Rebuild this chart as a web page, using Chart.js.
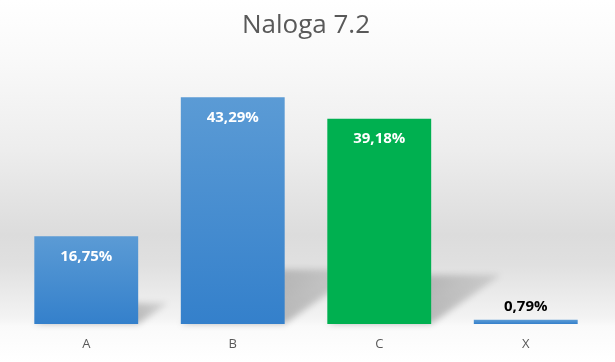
<!DOCTYPE html>
<html>
<head>
<meta charset="utf-8">
<script src="https://cdn.jsdelivr.net/npm/chart.js@4"></script>
<style>
  html, body { margin: 0; padding: 0; }
  body {
    width: 615px; height: 362px; overflow: hidden;
    background: linear-gradient(to bottom, #ffffff 0px, #f9f9f9 60px, #ededed 150px, #dcdcdc 235px, #e0e0e0 265px, #f3f3f3 318px, #fafafa 326px, #ffffff 362px);
  }
  .chart-box { position: relative; width: 615px; height: 362px; }
</style>
</head>
<body>
<div class="chart-box">
  <canvas id="naloga-chart"></canvas>
</div>
<script>
// Naloga 7.2 — share per answer
const categories = ['A', 'B', 'C', 'X'];
const shares = [16.75, 43.29, 39.18, 0.79];
const barColors = ['blue', 'blue', 'green', 'blue'];

const FONT = "'Open Sans', sans-serif";

// blue bars get a light-to-dark vertical gradient, green one stays flat
function barFill(context) {
  const chart = context.chart;
  const idx = context.dataIndex;
  if (barColors[idx] === 'green') return '#00b050';
  const y = chart.scales && chart.scales.y;
  if (!y || y.top === undefined) return '#4a8fd3';
  const top = y.getPixelForValue(shares[idx]);
  const base = y.getPixelForValue(0);
  const g = chart.ctx.createLinearGradient(0, top, 0, base);
  g.addColorStop(0, '#5b9bd5');
  g.addColorStop(1, '#3480cb');
  return g;
}

// soft shadow cast back-right of each bar
const barShadows = {
  id: 'barShadows',
  beforeDatasetsDraw(chart) {
    const ctx = chart.ctx;
    const meta = chart.getDatasetMeta(0);
    meta.data.forEach(bar => {
      const h = bar.base - bar.y;
      if (h < 10) return;
      const x0 = bar.x - bar.width / 2;
      const x1 = bar.x + bar.width / 2;
      const dx = h * 0.34;
      const dy = h * 0.24;
      ctx.save();
      ctx.filter = 'blur(3px)';
      const g = ctx.createLinearGradient(x1, bar.base, x1 + dx, bar.base - dy);
      g.addColorStop(0, 'rgba(0,0,0,0.24)');
      g.addColorStop(1, 'rgba(0,0,0,0.10)');
      ctx.fillStyle = g;
      ctx.beginPath();
      ctx.moveTo(x0, bar.base);
      ctx.lineTo(x1, bar.base);
      ctx.lineTo(x1 + dx, bar.base - dy);
      ctx.lineTo(x0 + dx, bar.base - dy);
      ctx.closePath();
      ctx.fill();
      ctx.restore();
    });
  }
};

// value labels: inside the bar top, or above it when the bar is too short
const valueLabels = {
  id: 'valueLabels',
  afterDatasetsDraw(chart) {
    const ctx = chart.ctx;
    const meta = chart.getDatasetMeta(0);
    ctx.save();
    ctx.font = `bold 15px ${FONT}`;
    ctx.textAlign = 'center';
    ctx.textBaseline = 'middle';
    meta.data.forEach((bar, i) => {
      const txt = shares[i].toFixed(2).replace('.', ',') + '%';
      const h = bar.base - bar.y;
      if (h > 30) {
        ctx.fillStyle = '#ffffff';
        ctx.fillText(txt, bar.x, bar.y + 20);
      } else {
        ctx.fillStyle = '#000000';
        ctx.fillText(txt, bar.x, bar.y - 13);
      }
    });
    ctx.restore();
  }
};

new Chart(document.getElementById('naloga-chart'), {
  type: 'bar',
  data: {
    labels: categories,
    datasets: [{
      label: 'Naloga 7.2',
      data: shares,
      backgroundColor: barFill,
      borderWidth: 0,
      barPercentage: 0.709,
      categoryPercentage: 1.0,
    }],
  },
  options: {
    responsive: true,
    maintainAspectRatio: false,
    animation: false,
    layout: {
      padding: { left: 13, right: 16, top: 0, bottom: 0 },
    },
    plugins: {
      legend: { display: false },
      tooltip: { enabled: false },
      title: {
        display: true,
        text: 'Naloga 7.2',
        color: '#595959',
        font: { family: FONT, size: 26, weight: 'normal' },
        padding: { top: 10, bottom: 21 },
      },
    },
    scales: {
      x: {
        grid: { display: false, drawTicks: false },
        border: { display: false },
        ticks: {
          color: '#595959',
          padding: 12,
          font: { family: FONT, size: 13 },
        },
        afterFit(scale) { scale.height = 38; },
      },
      y: {
        display: false,
        min: 0,
        max: 50,
      },
    },
  },
  plugins: [barShadows, valueLabels],
});
</script>
</body>
</html>
